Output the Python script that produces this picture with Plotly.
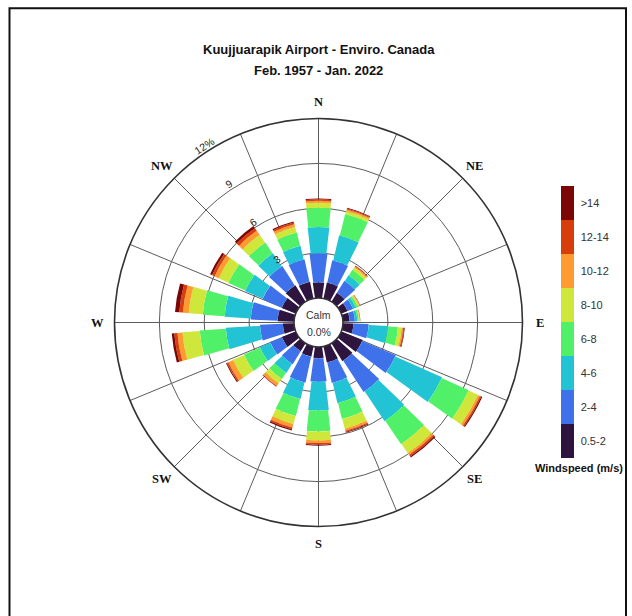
import math
import plotly.graph_objects as go

# ---------------- data (percent frequency per direction and speed bin) -------------
directions = [0, 20, 40, 60, 80, 100, 120, 140, 160, 180, 200, 220, 240, 260, 280, 300, 320, 340]
compass_labels = ["N", "NE", "E", "SE", "S", "SW", "W", "NW"]
compass_bearings = [0, 45, 90, 135, 180, 225, 270, 315]
radial_ticks = [3, 6, 9, 12]
radial_ticktext = ["3", "6", "9", "12%"]
speed_bins = ["0.5-2", "2-4", "4-6", "6-8", "8-10", "10-12", "12-14", ">14"]

freq_0_5_2 = [1.05, 1.10, 0.70, 0.45, 0.45, 0.70, 1.54, 1.40, 1.10, 0.75, 0.70, 0.62, 1.00, 0.75, 1.10, 1.00, 1.30, 1.15]
freq_2_4 = [1.94, 1.53, 0.95, 0.40, 0.35, 1.02, 2.44, 2.50, 1.40, 1.58, 1.78, 1.02, 0.85, 1.53, 1.80, 1.42, 1.55, 1.54]
freq_4_6 = [1.76, 1.72, 0.45, 0.20, 0.16, 1.28, 3.42, 2.40, 1.40, 1.92, 1.14, 0.72, 0.77, 2.29, 1.75, 1.28, 1.05, 0.95]
freq_6_8 = [1.28, 1.48, 0.45, 0.15, 0.10, 0.68, 1.98, 1.90, 1.10, 1.40, 1.18, 0.50, 1.16, 1.75, 1.47, 1.24, 0.88, 0.91]
freq_8_10 = [0.34, 0.22, 0.20, 0.10, 0.06, 0.25, 0.69, 0.75, 0.68, 0.60, 0.55, 0.36, 0.82, 1.16, 0.94, 0.72, 0.63, 0.39]
freq_10_12 = [0.13, 0.10, 0.08, 0.05, 0.03, 0.10, 0.15, 0.15, 0.14, 0.17, 0.25, 0.20, 0.35, 0.34, 0.39, 0.32, 0.34, 0.18]
freq_12_14 = [0.10, 0.07, 0.05, 0.02, 0.01, 0.07, 0.10, 0.12, 0.08, 0.10, 0.12, 0.06, 0.10, 0.21, 0.25, 0.17, 0.23, 0.12]
freq_gt_14 = [0.06, 0.05, 0.02, 0.01, 0.01, 0.04, 0.07, 0.08, 0.05, 0.08, 0.08, 0.02, 0.07, 0.17, 0.28, 0.15, 0.16, 0.08]

series = [freq_0_5_2, freq_2_4, freq_4_6, freq_6_8, freq_8_10, freq_10_12, freq_12_14, freq_gt_14]

# ---------------- style ----------------
colors = ["#2e1540", "#3f72ea", "#22c3d4", "#50f168", "#cfe63a", "#fd9a30", "#d83d0c", "#7a0705"]
W, H = 632, 616
CX, CY = 318.5, 322.5        # centre of rose (px)
R_OUT = 204.0                # outer ring radius (px)
HOLE_PX = 24.5               # calm circle radius (px)
RMAX = 12
PX_PER = (R_OUT - HOLE_PX) / RMAX
GRID = "#5c5c5c"
FONT = "Liberation Sans, Arial, sans-serif"
SERIF = "Liberation Serif, Times New Roman, serif"

fig = go.Figure()

cum = [0.0] * len(directions)
for k, (name, vals) in enumerate(zip(speed_bins, series)):
    widths = []
    for i, v in enumerate(vals):
        mid_px = HOLE_PX + PX_PER * (cum[i] + v / 2.0)
        widths.append(min(16.5, 9.43 + math.degrees(5.2 / mid_px)))
        cum[i] += v
    fig.add_trace(go.Barpolar(
        r=vals, theta=directions, width=widths, name=name,
        marker=dict(color=[k + 0.5] * len(vals), coloraxis="coloraxis",
                    line=dict(width=0)),
        showlegend=False, hoverinfo="skip",
    ))

n = len(colors)
cscale = []
for k, c in enumerate(colors):
    cscale.append([k / n, c])
    cscale.append([(k + 1) / n, c])

cb_top, cb_bot = 186.7, 458.3
annotations = []

def paper(xpx, ypx):
    return xpx / W, (H - ypx) / H

# titles
for txt, ypx in [("Kuujjuarapik Airport - Enviro. Canada", 49.3), ("Feb. 1957 - Jan. 2022", 70.0)]:
    x, y = paper(CX, ypx)
    annotations.append(dict(text="<b>%s</b>" % txt, x=x, y=y, xref="paper", yref="paper",
                            showarrow=False, xanchor="center", yanchor="middle",
                            font=dict(family=FONT, size=13, color="#111")))

# compass labels
for lab, b in zip(compass_labels, compass_bearings):
    rr = 221
    x, y = paper(CX + rr * math.sin(math.radians(b)), CY - rr * math.cos(math.radians(b)))
    annotations.append(dict(text="<b>%s</b>" % lab, x=x, y=y, xref="paper", yref="paper",
                            showarrow=False, xanchor="center", yanchor="middle",
                            font=dict(family=SERIF, size=12.5, color="#111")))

# radial tick labels
rad_bearing = 327
for v, t in zip(radial_ticks, radial_ticktext):
    rr = HOLE_PX + PX_PER * v + 6
    x, y = paper(CX + rr * math.sin(math.radians(rad_bearing)), CY - rr * math.cos(math.radians(rad_bearing)))
    annotations.append(dict(text=t, x=x, y=y, xref="paper", yref="paper", textangle=-33,
                            showarrow=False, xanchor="center", yanchor="middle",
                            font=dict(family=FONT, size=10.5, color="#222")))

# calm text
for txt, ypx in [("Calm", 315.0), ("0.0%", 331.5)]:
    x, y = paper(CX, ypx)
    annotations.append(dict(text=txt, x=x, y=y, xref="paper", yref="paper",
                            showarrow=False, xanchor="center", yanchor="middle",
                            font=dict(family=FONT, size=10.5, color="#333")))

# colorbar title
x, y = paper(579.3, 468.0)
annotations.append(dict(text="<b>Windspeed (m/s)</b>", x=x, y=y, xref="paper", yref="paper",
                        showarrow=False, xanchor="center", yanchor="middle",
                        font=dict(family=FONT, size=11, color="#111")))

fig.update_layout(
    width=W, height=H,
    margin=dict(l=0, r=0, t=0, b=0),
    paper_bgcolor="white",
    font=dict(family=FONT),
    polar=dict(
        domain=dict(x=[(CX - R_OUT) / W, (CX + R_OUT) / W],
                    y=[(H - CY - R_OUT) / H, (H - CY + R_OUT) / H]),
        hole=HOLE_PX / R_OUT,
        bgcolor="white",
        barmode="stack",
        angularaxis=dict(rotation=90, direction="clockwise",
                         tickmode="array", tickvals=[i * 22.5 for i in range(16)],
                         showticklabels=False, ticks="",
                         showgrid=True, gridcolor=GRID, gridwidth=1,
                         showline=True, linecolor="#333", linewidth=1.6,
                         layer="above traces"),
        radialaxis=dict(range=[0, RMAX], tickmode="array", tickvals=radial_ticks[:-1],
                        showticklabels=False, ticks="", showline=False,
                        showgrid=True, gridcolor=GRID, gridwidth=1,
                        layer="above traces"),
    ),
    coloraxis=dict(
        cmin=0, cmax=n, colorscale=cscale,
        colorbar=dict(
            x=560.7 / W, xanchor="left", xpad=0, ypad=0,
            y=(H - (cb_top + cb_bot) / 2) / H, yanchor="middle",
            len=(cb_bot - cb_top) / H, lenmode="fraction",
            thickness=12.6, outlinewidth=0,
            tickmode="array", tickvals=[k + 0.5 for k in range(n)], ticktext=speed_bins,
            ticks="outside", ticklen=5, tickcolor="rgba(0,0,0,0)",
            tickfont=dict(family=FONT, size=11, color="#333"),
        ),
    ),
    annotations=annotations,
    shapes=[dict(type="rect", xref="paper", yref="paper",
                 x0=9.5 / W, x1=626.0 / W, y0=-0.05, y1=(H - 8.3) / H,
                 line=dict(color="#111", width=2), fillcolor="rgba(0,0,0,0)")],
)

fig.write_html("out.html",
               config={"displayModeBar": False, "staticPlot": True},
               post_script="document.body.style.margin='0';document.body.style.overflow='hidden';")
